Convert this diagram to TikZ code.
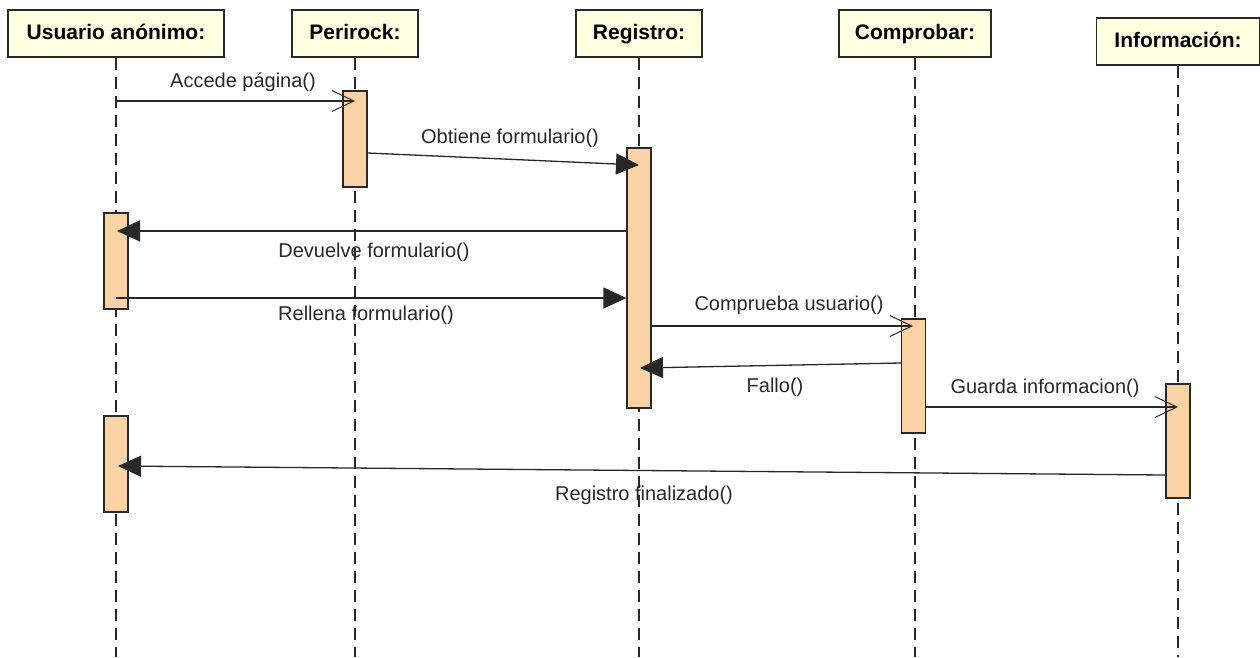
\documentclass[tikz,border=0pt]{standalone}
\usepackage{fontspec}
\setmainfont{Liberation Sans}
\usetikzlibrary{arrows.meta}
\definecolor{hdrfill}{RGB}{255,255,225}
\definecolor{actfill}{RGB}{250,210,165}
\definecolor{ink}{RGB}{40,40,40}
\begin{document}
\begin{tikzpicture}[x=1pt,y=-1pt,
  hdr/.style={draw=ink,line width=1.3pt,fill=hdrfill,rectangle,inner sep=0pt,
    minimum height=47pt,text height=15pt,text depth=4pt,font=\fontsize{21}{24}\selectfont\bfseries},
  life/.style={draw=ink,line width=1.3pt,dash pattern=on 12pt off 7pt},
  act/.style={draw=ink,line width=1.3pt,fill=actfill,rectangle,inner sep=0pt,minimum width=24pt},
  syncmsg/.style={draw=ink,line width=1.3pt,-{Triangle[length=23pt,width=21pt]}},
  asyncmsg/.style={draw=ink,line width=1.3pt,-{Straight Barb[length=22pt,width=21pt,line width=1pt]}},
  lbl/.style={font=\fontsize{20}{23}\selectfont,inner sep=0pt,text height=14pt,text depth=4pt,text=ink}]
\useasboundingbox (0,0) rectangle (1260,657);
\fill[white] (0,0) rectangle (1260,657);

% headers
\node[hdr,minimum width=216pt] (u) at (116,33.5) {Usuario anónimo:};
\node[hdr,minimum width=126pt] (p) at (355,33.5) {Perirock:};
\node[hdr,minimum width=126pt] (r) at (639,33.5) {Registro:};
\node[hdr,minimum width=152pt] (c) at (915,33.5) {Comprobar:};
\node[hdr,minimum width=163pt] (i) at (1178,41.5) {Información:};

% lifeline ends
\coordinate (ue) at (116,657);
\coordinate (pe) at (355,657);
\coordinate (re) at (639,657);
\coordinate (ce) at (915,657);
\coordinate (ie) at (1178,657);
\draw[life] (u.south) -- (ue);
\draw[life] (p.south) -- (pe);
\draw[life] (r.south) -- (re);
\draw[life] (c.south) -- (ce);
\draw[life] (i.south) -- (ie);

% activations
\node[act,minimum height=96pt]  (ap)  at (355,139) {};
\node[act,minimum height=260pt] (ar)  at (639,278) {};
\node[act,minimum height=96pt]  (au1) at (116,261) {};
\node[act,minimum height=114pt] (ac)  at (913.5,376) {};
\node[act,minimum height=114pt] (ai)  at (1178,441) {};
\node[act,minimum height=96pt]  (au2) at (116,464) {};

% message end points
\coordinate (m1a) at (116,101);   \coordinate (m1b) at (355,101);
\coordinate (m2a) at (ap.east |- 0,153); \coordinate (m2b) at (639,165);
\coordinate (m3a) at (ar.west |- 0,231); \coordinate (m3b) at (117,231);
\coordinate (m4a) at (116,298);   \coordinate (m4b) at (ar.west |- 0,298);
\coordinate (m5a) at (ar.east |- 0,326); \coordinate (m5b) at (913,326);
\coordinate (m6a) at (ac.west |- 0,363); \coordinate (m6b) at (640,368);
\coordinate (m7a) at (ac.east |- 0,407); \coordinate (m7b) at (1178,407);
\coordinate (m8a) at (ai.west |- 0,475); \coordinate (m8b) at (118,466);

\draw[asyncmsg] (m1a) -- (m1b);
\draw[syncmsg]  (m2a) -- (m2b);
\draw[syncmsg]  (m3a) -- (m3b);
\draw[syncmsg]  (m4a) -- (m4b);
\draw[asyncmsg] (m5a) -- (m5b);
\draw[syncmsg]  (m6a) -- (m6b);
\draw[asyncmsg] (m7a) -- (m7b);
\draw[syncmsg]  (m8a) -- (m8b);

% labels
\node[lbl] (l1) at (243,82)  {Accede página()};
\node[lbl] (l2) at (510,138) {Obtiene formulario()};
\node[lbl] (l3) at (374,252) {Devuelve formulario()};
\node[lbl] (l4) at (366,315) {Rellena formulario()};
\node[lbl] (l5) at (789,305) {Comprueba usuario()};
\node[lbl] (l6) at (775,387) {Fallo()};
\node[lbl] (l7) at (1045,388) {Guarda informacion()};
\node[lbl] (l8) at (644,495) {Registro finalizado()};
\end{tikzpicture}
\end{document}
